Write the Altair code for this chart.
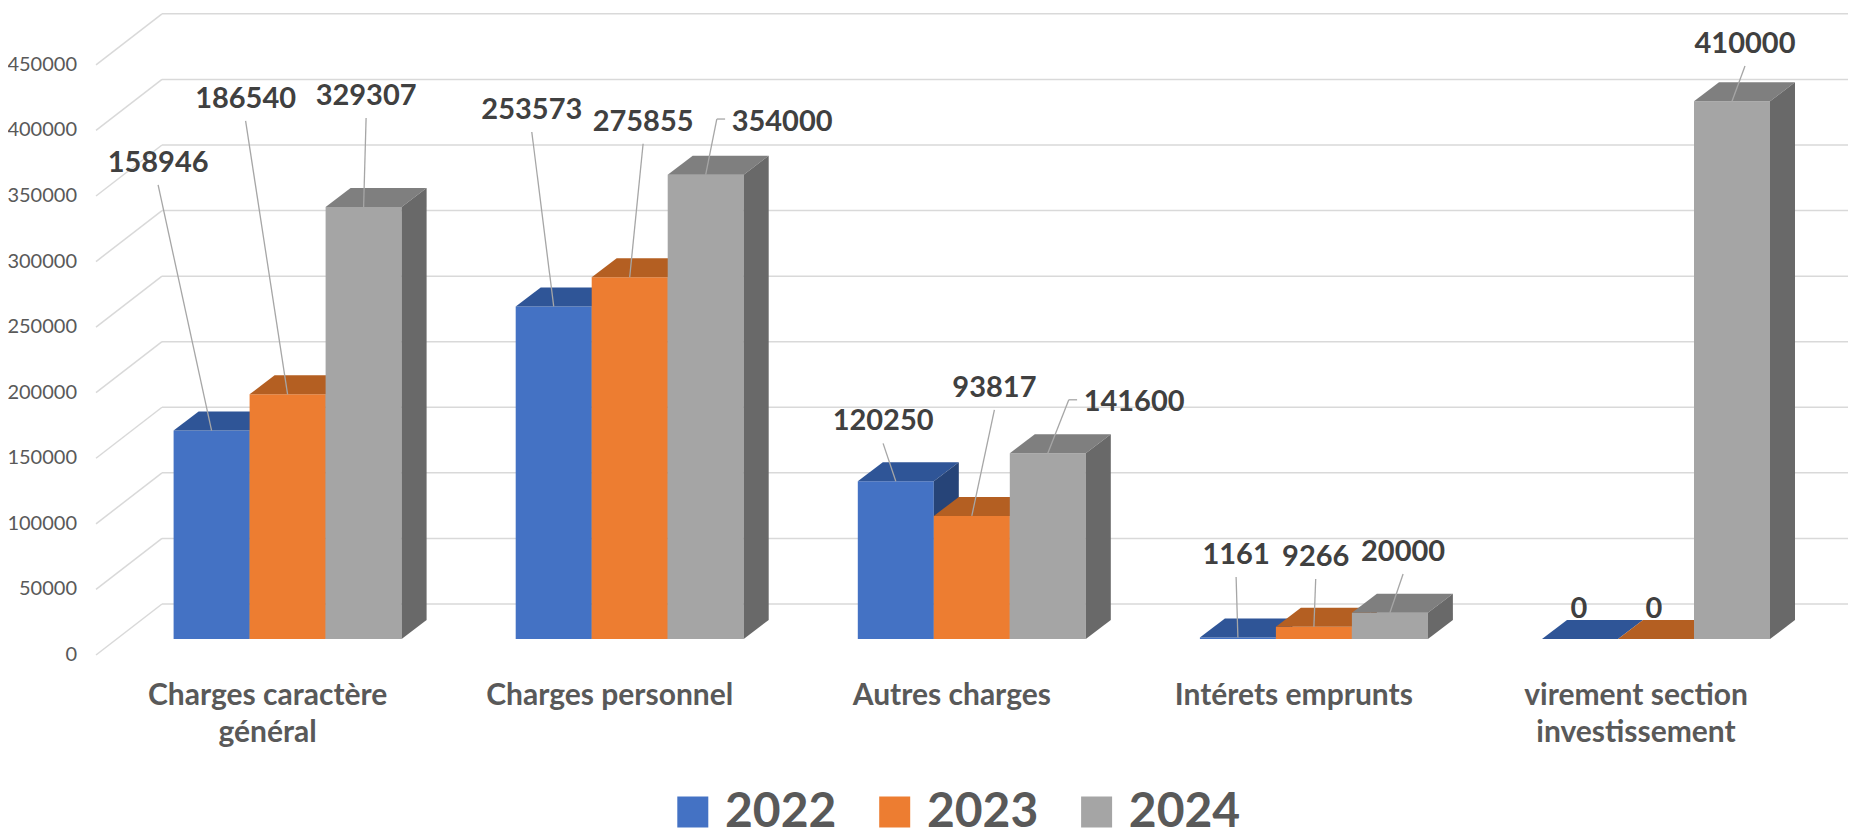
import altair as alt
import pandas as pd

# ---------------- data ----------------
categories = [
    "Charges caractère\ngénéral",
    "Charges personnel",
    "Autres charges",
    "Intérets emprunts",
    "virement section\ninvestissement",
]
years = ["2022", "2023", "2024"]
values_2022 = [158946, 253573, 120250, 1161, 0]
values_2023 = [186540, 275855, 93817, 9266, 0]
values_2024 = [329307, 354000, 141600, 20000, 410000]
y_ticks = [0, 50000, 100000, 150000, 200000, 250000, 300000, 350000, 400000, 450000]

# ---------------- style / layout ----------------
front_colors = ["#4472C4", "#ED7D31", "#A5A5A5"]
top_colors = ["#2F5597", "#B45F22", "#7F7F7F"]
side_colors = ["#264478", "#9C5119", "#696969"]
TEXT_DARK = "#404040"
TEXT_GREY = "#595959"
GRID = "#D9D9D9"
LEADER = "#A6A6A6"
FONT = "Lato"

MARGIN = 8
W, H = 1840, 825
K = 0.0013115          # pixels per unit of value
Y_FRONT = 639          # page y of the bars' front base
GROUP0, GROUP_STEP = 287.6, 342.1
BAR_W = 76
DEPTH_X, DEPTH_Y = 25, 19
FLOOR_FRONT_X, WALL_X = 96, 162
FLOOR_FRONT_DY, WALL_DY = 16, 35   # px below / above the bar front base

# manual label placement (px offsets from the top-front centre of each bar)
label_dx = [[-53.5, -21.9, -12.7, -1.8, -1], [-42, 13.4, 22.6, 1.8, -2], [2.5, 76.4, 86.3, 13.2, 13]]
label_dy = [[-267.6, -196.4, -59.9, -82.5, -30], [-295.4, -155.5, -128, -69.8, -30],
            [-111.1, -53, -50.8, -60.8, -57.3]]
elbow = [[False] * 5, [False] * 5, [False, True, True, False, False]]


def val_at(page_y):
    """value whose front position is the given page y"""
    return (Y_FRONT - page_y) / K


def dval(px):
    return px / K


xs = alt.Scale(domain=[MARGIN, MARGIN + W], nice=False, zero=False)
ys = alt.Scale(domain=[val_at(MARGIN + H), val_at(MARGIN)], nice=False, zero=False)

series = [values_2022, values_2023, values_2024]

fronts, tops, sides, segs, labels = [], [], [], [], []
for j, vals in enumerate(series):
    f, t, s = [], [], []
    for i, v in enumerate(vals):
        gc = GROUP0 + i * GROUP_STEP
        left = gc - 1.5 * BAR_W + j * BAR_W
        right = left + BAR_W
        cx = (left + right) / 2
        bid = f"{i}-{j}"
        f.append({"x": left, "x2": right, "y": 0, "y2": v})
        t.append({"bar": bid, "ty": v, "tx": left, "tx2": right})
        t.append({"bar": bid, "ty": v + dval(DEPTH_Y), "tx": left + DEPTH_X, "tx2": right + DEPTH_X})
        s.append({"bar": bid, "sx": right, "sy": 0, "sy2": v})
        s.append({"bar": bid, "sx": right + DEPTH_X, "sy": dval(DEPTH_Y), "sy2": v + dval(DEPTH_Y)})
        lx = cx + label_dx[j][i]
        ly = v - dval(label_dy[j][i])
        labels.append({"x": lx, "y": ly, "t": str(v)})
        if v > 0:
            if elbow[j][i]:
                ex1 = lx - 57
                ex2 = lx - 65.3
                ey = ly + dval(2.7)
                segs.append({"x": ex1, "x2": ex2, "y": ey, "y2": ey})
                segs.append({"x": ex2, "x2": cx, "y": ey, "y2": v})
            else:
                segs.append({"x": lx, "x2": cx, "y": ly - dval(22), "y2": v})
    fronts.append(pd.DataFrame(f))
    tops.append(pd.DataFrame(t))
    sides.append(pd.DataFrame(s))

grid_diag = pd.DataFrame([
    {"x": FLOOR_FRONT_X, "x2": WALL_X, "y": v - dval(FLOOR_FRONT_DY), "y2": v + dval(WALL_DY)}
    for v in y_ticks
])
grid_h = pd.DataFrame([
    {"x": WALL_X, "x2": MARGIN + W, "y": v + dval(WALL_DY), "y2": v + dval(WALL_DY)}
    for v in y_ticks
])
tick_df = pd.DataFrame([{"x": 77, "y": v - dval(FLOOR_FRONT_DY), "t": str(v)} for v in y_ticks])
cat_df = pd.DataFrame([
    {"x": GROUP0 + i * GROUP_STEP - 20, "y": val_at(705), "t": c} for i, c in enumerate(categories)
])
leg_sq = pd.DataFrame([{"x": 692.8 + 201.9 * j, "y": val_at(812), "year": y} for j, y in enumerate(years)])
leg_tx = pd.DataFrame([{"x": 725 + 201.9 * j, "y": val_at(827), "t": y} for j, y in enumerate(years)])
seg_df = pd.DataFrame(segs)
lab_df = pd.DataFrame(labels)


def rules(df, color, width):
    return alt.Chart(df).mark_rule(color=color, strokeWidth=width).encode(
        x=alt.X("x:Q", scale=xs, axis=None), x2="x2:Q",
        y=alt.Y("y:Q", scale=ys, axis=None), y2="y2:Q",
    )


layers = [rules(grid_diag, GRID, 1.5), rules(grid_h, GRID, 1.5)]
layers.append(
    alt.Chart(tick_df).mark_text(align="right", baseline="middle", font=FONT, fontSize=20, color=TEXT_GREY).encode(
        x=alt.X("x:Q", scale=xs, axis=None), y=alt.Y("y:Q", scale=ys, axis=None), text="t:N")
)

for j in range(3):
    layers.append(
        alt.Chart(fronts[j]).mark_rect(color=front_colors[j]).encode(
            x=alt.X("x:Q", scale=xs, axis=None), x2="x2:Q",
            y=alt.Y("y:Q", scale=ys, axis=None), y2="y2:Q")
    )
    layers.append(
        alt.Chart(tops[j]).mark_area(orient="horizontal", color=top_colors[j]).encode(
            y=alt.Y("ty:Q", scale=ys, axis=None),
            x=alt.X("tx:Q", scale=xs, axis=None, stack=None), x2="tx2:Q",
            detail="bar:N")
    )
    layers.append(
        alt.Chart(sides[j]).mark_area(orient="vertical", color=side_colors[j]).encode(
            x=alt.X("sx:Q", scale=xs, axis=None),
            y=alt.Y("sy:Q", scale=ys, axis=None, stack=None), y2="sy2:Q",
            detail="bar:N")
    )

layers.append(rules(seg_df, LEADER, 1.3))
layers.append(
    alt.Chart(lab_df).mark_text(align="center", baseline="middle", font=FONT, fontWeight="bold",
                                fontSize=29, color=TEXT_DARK).encode(
        x=alt.X("x:Q", scale=xs, axis=None), y=alt.Y("y:Q", scale=ys, axis=None), text="t:N")
)
layers.append(
    alt.Chart(cat_df).mark_text(align="center", baseline="alphabetic", font=FONT, fontWeight="bold",
                                fontSize=30, color=TEXT_GREY, lineBreak="\n", lineHeight=37).encode(
        x=alt.X("x:Q", scale=xs, axis=None), y=alt.Y("y:Q", scale=ys, axis=None), text="t:N")
)
layers.append(
    alt.Chart(leg_sq).mark_square(size=961, filled=True, opacity=1).encode(
        x=alt.X("x:Q", scale=xs, axis=None), y=alt.Y("y:Q", scale=ys, axis=None),
        color=alt.Color("year:N", scale=alt.Scale(domain=years, range=front_colors), legend=None))
)
layers.append(
    alt.Chart(leg_tx).mark_text(align="left", baseline="alphabetic", font=FONT, fontWeight="bold",
                                fontSize=48, color=TEXT_GREY).encode(
        x=alt.X("x:Q", scale=xs, axis=None), y=alt.Y("y:Q", scale=ys, axis=None), text="t:N")
)

chart = alt.layer(*layers).properties(
    width=W, height=H, padding=0, autosize=alt.AutoSizeParams(type="none"), background="white"
).configure_view(stroke=None)

chart.save("out.html", embed_options={"renderer": "svg", "actions": False})
